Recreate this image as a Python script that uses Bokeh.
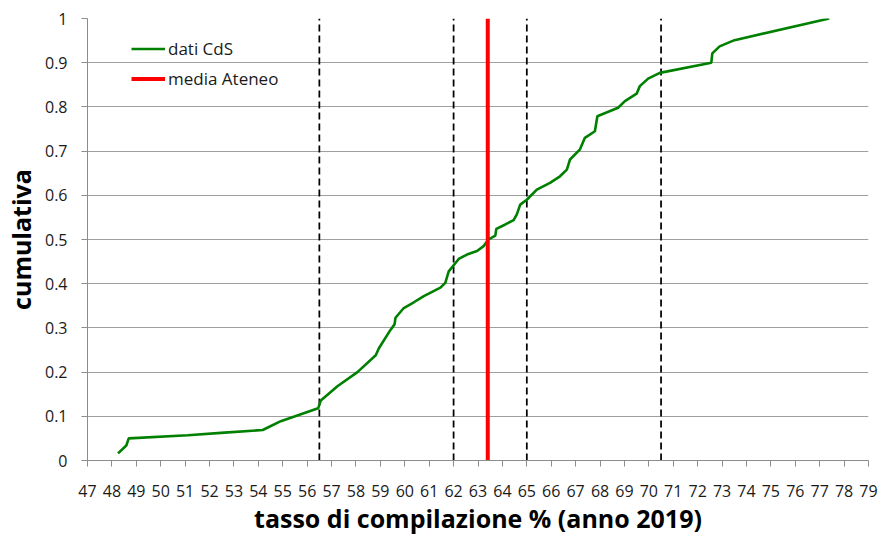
from bokeh.plotting import figure
from bokeh.models import Range1d, FixedTicker, NumeralTickFormatter, Legend, LegendItem
from bokeh.embed import file_html
from bokeh.resources import INLINE

# Cumulative distribution of the compilation rate per course (CdS), year 2019
rate = [48.25, 48.59, 48.69, 51.11, 52.61, 54.18, 54.92, 56.45, 56.56, 57.24,
        58.06, 58.81, 58.94, 59.42, 59.58, 59.62, 59.96, 60.37, 60.78, 61.46,
        61.66, 61.80, 62.21, 62.55, 62.96, 63.23, 63.43, 63.71, 63.75, 64.12,
        64.46, 64.59, 64.73, 65.00, 65.41, 65.95, 66.36, 66.64, 66.77, 67.18,
        67.38, 67.79, 67.89, 68.74, 69.02, 69.50, 69.63, 69.97, 70.45, 72.56,
        72.60, 72.90, 73.51, 77.39]
cum = [0.016, 0.034, 0.050, 0.057, 0.063, 0.069, 0.089, 0.118, 0.136, 0.168,
       0.200, 0.238, 0.254, 0.296, 0.308, 0.323, 0.345, 0.358, 0.372, 0.391,
       0.402, 0.428, 0.456, 0.466, 0.474, 0.485, 0.500, 0.509, 0.524, 0.534,
       0.544, 0.557, 0.579, 0.590, 0.613, 0.628, 0.643, 0.658, 0.681, 0.704,
       0.730, 0.745, 0.779, 0.798, 0.813, 0.830, 0.847, 0.864, 0.877, 0.900,
       0.921, 0.937, 0.951, 1.000]

media_ateneo = [63.4]
ref_lines = [56.5, 62.0, 65.0, 70.5]

x_ticks = [47, 48, 49, 50, 51, 52, 53, 54, 55, 56, 57, 58, 59, 60, 61, 62, 63,
           64, 65, 66, 67, 68, 69, 70, 71, 72, 73, 74, 75, 76, 77, 78, 79]
y_ticks = [0, 0.1, 0.2, 0.3, 0.4, 0.5, 0.6, 0.7, 0.8, 0.9, 1.0]

FONT = "Open Sans"

p = figure(width=878, height=541, output_backend="svg", toolbar_location=None,
           x_range=Range1d(47, 79), y_range=Range1d(0, 1),
           min_border_left=85, min_border_right=10, min_border_top=18,
           min_border_bottom=81)
p.outline_line_color = None
p.background_fill_color = "white"
p.border_fill_color = "white"

p.segment(x0=ref_lines, y0=[0] * len(ref_lines), x1=ref_lines, y1=[1] * len(ref_lines),
          line_color="black", line_width=1.75, line_dash="7 4")
green = p.line(rate, cum, line_color="#008000", line_width=2.6)
red = p.segment(x0=media_ateneo, y0=[0], x1=media_ateneo, y1=[1],
                line_color="#FF0000", line_width=4)

legend = Legend(items=[LegendItem(label="dati CdS", renderers=[green]),
                       LegendItem(label="media Ateneo", renderers=[red])],
                location=(44, 370), padding=0, margin=0, spacing=7,
                glyph_width=34, glyph_height=23, label_height=23, label_standoff=3,
                label_text_font=FONT, label_text_font_size="17px",
                label_text_color="#1a1a1a",
                border_line_alpha=0, background_fill_alpha=0)
p.add_layout(legend)

p.xgrid.visible = False
p.ygrid.grid_line_color = "#A0A0A0"
p.ygrid.grid_line_width = 1

p.xaxis.ticker = FixedTicker(ticks=x_ticks)
p.yaxis.ticker = FixedTicker(ticks=y_ticks)
p.yaxis.formatter = NumeralTickFormatter(format="0.[0]")

for ax in (p.xaxis[0], p.yaxis[0]):
    ax.axis_line_color = "#8C8C8C"
    ax.major_tick_line_color = "#8C8C8C"
    ax.minor_tick_line_color = None
    ax.major_tick_in = 0
    ax.major_tick_out = 6
    ax.major_label_text_font = FONT
    ax.major_label_text_font_size = "16px"
    ax.major_label_text_color = "#1a1a1a"
    ax.axis_label_text_font = FONT
    ax.axis_label_text_font_size = "25px"
    ax.axis_label_text_font_style = "bold"
    ax.axis_label_text_color = "black"

p.xaxis.major_label_standoff = 18
p.xaxis.axis_label_standoff = 1
p.yaxis.major_label_standoff = 14
p.yaxis.axis_label_standoff = 4
p.xaxis.axis_label = "tasso di compilazione % (anno 2019)"
p.yaxis.axis_label = "cumulativa"

open("out.html", "w").write(file_html(p, INLINE))
